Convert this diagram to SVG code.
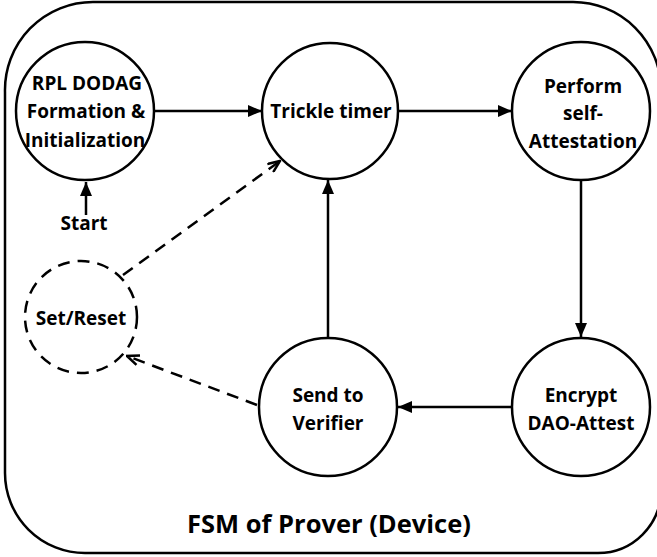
<svg xmlns="http://www.w3.org/2000/svg" width="657" height="557" viewBox="0 0 657 557">
<defs>
<style>
.node{fill:#fff;stroke:#000;stroke-width:2.5}
.dash{fill:none;stroke:#000;stroke-width:2.5;stroke-dasharray:12 8}
.t{font-family:"Open Sans","Liberation Sans",sans-serif;font-weight:bold;font-size:19px;text-anchor:middle;fill:#000}
.edge{fill:none;stroke:#000;stroke-width:2.5}
</style>
<marker id="ah" viewBox="0 0 14 12" refX="14" refY="6" markerWidth="14" markerHeight="12" markerUnits="userSpaceOnUse" orient="auto">
<path d="M0,0 L14,6 L0,12 Z" fill="#000"/>
</marker>
<marker id="oh" viewBox="0 0 14 12" refX="13" refY="6" markerWidth="14" markerHeight="12" markerUnits="userSpaceOnUse" orient="auto">
<path d="M1,1 L13,6 L1,11" fill="none" stroke="#000" stroke-width="2.5"/>
</marker>
</defs>
<rect width="657" height="557" fill="#fff"/>
<path id="frame" d="M5,92 A88,88 0 0 1 93,2 L573,2 A88,88 0 0 1 661,90 L661,490 A63,63 0 0 1 598,553 L85,553 A80,80 0 0 1 5,473 Z" fill="none" stroke="#000" stroke-width="2.5"/>
<g id="connectors">
<line class="edge" x1="155" y1="111" x2="262" y2="111" marker-end="url(#ah)"/>
<line class="edge" x1="398" y1="111" x2="512" y2="111" marker-end="url(#ah)"/>
<line class="edge" x1="581" y1="180" x2="581" y2="337" marker-end="url(#ah)"/>
<line class="edge" x1="513" y1="407" x2="398" y2="407" marker-end="url(#ah)"/>
<line class="edge" x1="328" y1="338" x2="328" y2="180" marker-end="url(#ah)"/>
<line class="edge" x1="86" y1="215" x2="86" y2="182" marker-end="url(#ah)"/>
<line class="dash" x1="123" y1="275" x2="280" y2="161" marker-end="url(#oh)"/>
<line class="dash" x1="257" y1="405" x2="127" y2="356" marker-end="url(#oh)"/>
</g>
<g id="rpl">
<circle class="node" cx="85" cy="111" r="69"/>
<text class="t" x="87" y="90">RPL DODAG</text>
<text class="t" x="86" y="118">Formation &amp;</text>
<text class="t" x="85" y="147">Initialization</text>
</g>
<g id="trickle">
<circle class="node" cx="330" cy="111" r="68"/>
<text class="t" x="331" y="118">Trickle timer</text>
</g>
<g id="perform">
<circle class="node" cx="581" cy="111" r="69"/>
<text class="t" x="583" y="93">Perform</text>
<text class="t" x="583" y="120">self-</text>
<text class="t" x="583" y="148">Attestation</text>
</g>
<g id="encrypt">
<circle class="node" cx="581" cy="407" r="69"/>
<text class="t" x="581" y="402">Encrypt</text>
<text class="t" x="581" y="430">DAO-Attest</text>
</g>
<g id="send">
<circle class="node" cx="328" cy="407" r="69"/>
<text class="t" x="328" y="402">Send to</text>
<text class="t" x="328" y="430">Verifier</text>
</g>
<g id="setreset">
<circle class="dash" cx="81" cy="317" r="56"/>
<text class="t" x="81" y="325">Set/Reset</text>
</g>
<g id="start">
<text class="t" x="84" y="230">Start</text>
</g>
<text id="title" class="t" x="329" y="533" style="font-size:25.5px">FSM of Prover (Device)</text>
</svg>
